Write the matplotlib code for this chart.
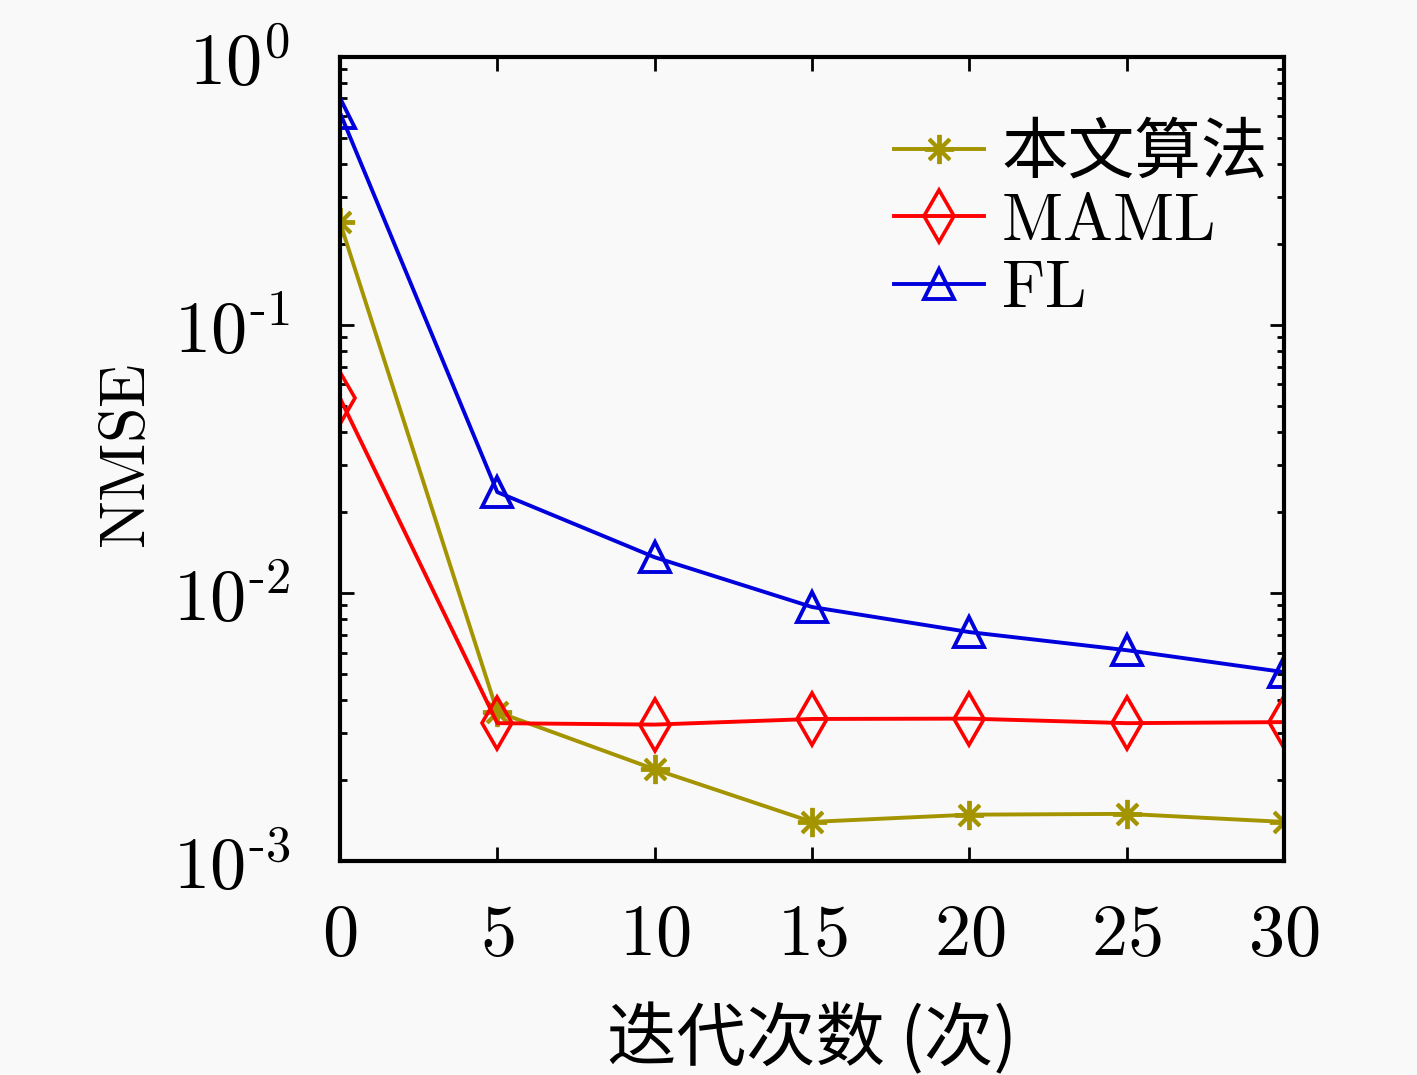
import numpy as np
import matplotlib
matplotlib.use('Agg')
import matplotlib.pyplot as plt
from matplotlib.ticker import LogLocator, FuncFormatter, NullFormatter

plt.rcParams['mathtext.fontset'] = 'cm'
plt.rcParams['font.family'] = ['DejaVu Serif', 'Noto Sans CJK SC']

# 数据
iters = [0, 5, 10, 15, 20, 25, 30]
ours = [0.242, 0.0036, 0.0022, 0.0014, 0.00149, 0.0015, 0.0014]
maml = [0.0534, 0.00327, 0.00323, 0.00339, 0.0034, 0.00327, 0.0033]
fl = [0.62, 0.0238, 0.0136, 0.00887, 0.00715, 0.00612, 0.00507]
labels = ['本文算法', r'$\mathrm{MAML}$', r'$\mathrm{FL}$']


def exp_fmt(v, pos):
    e = int(round(np.log10(v)))
    if e < 0:
        return r'$10^{\text{-}%d}$' % (-e)
    return r'$10^{%d}$' % e


fig = plt.figure(figsize=(14.17, 10.75), dpi=100)
fig.patch.set_facecolor('#f9f9f9')
ax = fig.add_axes([0.2399, 0.199, 0.6663, 0.748])
ax.set_facecolor('#f9f9f9')

l1, = ax.plot(iters, ours, color='#a39400', lw=2.8, marker=(8, 2, 0), ms=21, mew=2.8)
l2, = ax.plot(iters, maml, color='#ff0000', lw=2.8, marker='d', ms=26, mfc='none', mew=2.6)
l3, = ax.plot(iters, fl, color='#0000dd', lw=2.8, marker='^', ms=21, mfc='none', mew=2.8)

ax.set_yscale('log')
ax.set_ylim(1e-3, 1e0)
ax.set_xlim(0, 30)
ax.set_xticks(iters)
ax.set_xticklabels([r'$%d$' % v for v in iters])
ax.yaxis.set_major_locator(LogLocator(base=10, numticks=10))
ax.yaxis.set_major_formatter(FuncFormatter(exp_fmt))
ax.yaxis.set_minor_locator(LogLocator(base=10, subs=np.arange(2, 10), numticks=10))
ax.yaxis.set_minor_formatter(NullFormatter())

ax.tick_params(which='both', direction='in', top=True, right=True, width=2)
ax.tick_params(which='major', length=10)
ax.tick_params(which='minor', length=5)
ax.tick_params(axis='x', labelsize=52, pad=28)
ax.tick_params(axis='y', labelsize=52, pad=36)
for s in ax.spines.values():
    s.set_linewidth(3)

ax.set_ylabel(r'$\mathrm{NMSE}$', fontsize=46)
ax.yaxis.set_label_coords(-0.193, 0.504)
ax.set_xlabel('迭代次数 (次)', fontsize=50, family=['Noto Sans CJK SC', 'DejaVu Sans'], labelpad=24)

leg = ax.legend([l1, l2, l3], labels, loc='upper right', frameon=False,
                prop={'family': ['Noto Sans CJK SC', 'DejaVu Sans'], 'size': 48},
                handlelength=1.35, handletextpad=0.25, labelspacing=0.0,
                bbox_to_anchor=(1.032, 0.98), borderaxespad=0.3)

fig.savefig('out.png', dpi=100, facecolor=fig.get_facecolor())
